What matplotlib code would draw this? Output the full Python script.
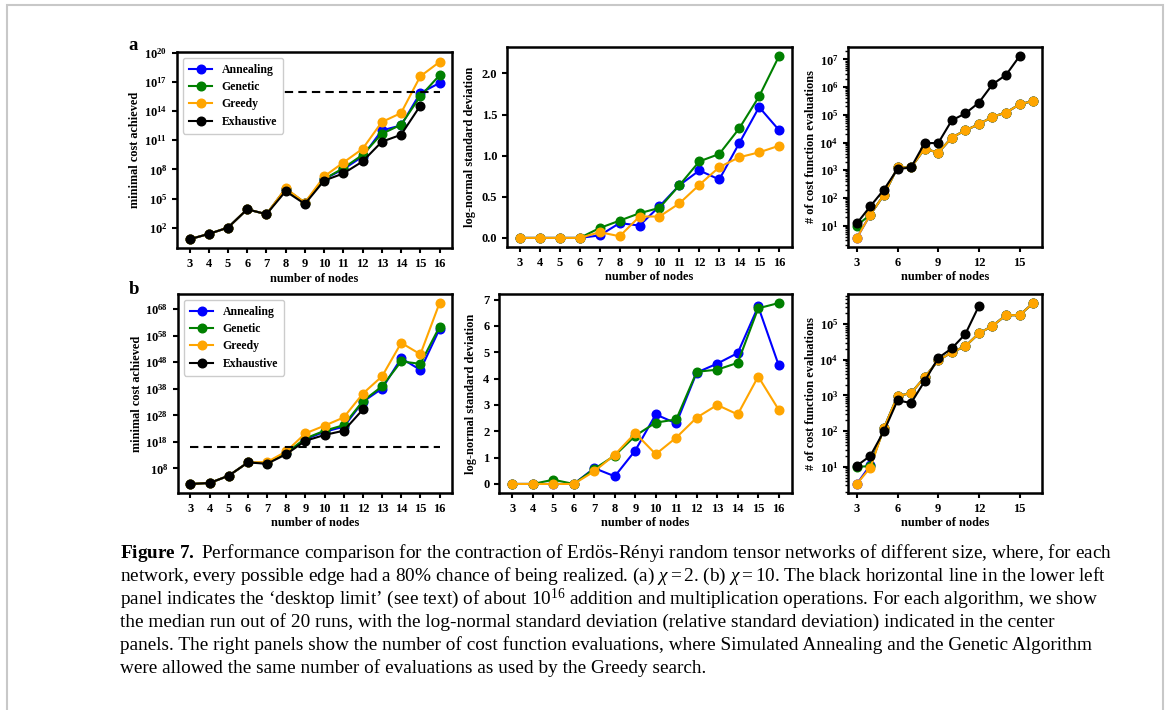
import numpy as np
import matplotlib
matplotlib.use("Agg")
import matplotlib.pyplot as plt
from matplotlib.ticker import NullLocator, FixedLocator
from matplotlib.patches import Rectangle

# ---------------- data ----------------
nodes = list(range(3, 17))
nodes_exh_a = list(range(3, 16))
nodes_exh_b = list(range(3, 13))

# (a) chi = 2 : log10 of minimal cost
a_cost_annealing = [0.80, 1.35, 2.0, 3.89, 3.38, 6.0, 4.55, 7.0, 8.02, 9.33, 12.02, 12.53, 15.87, 16.9]
a_cost_genetic   = [0.80, 1.35, 2.0, 3.89, 3.38, 6.0, 4.55, 7.0, 8.13, 9.5, 11.67, 12.6, 15.53, 17.7]
a_cost_greedy    = [0.80, 1.35, 2.0, 3.89, 3.38, 6.06, 4.58, 7.27, 8.71, 10.12, 12.88, 13.81, 17.59, 19.07]
a_cost_exhaustive = [0.80, 1.35, 2.0, 3.89, 3.38, 5.75, 4.44, 6.85, 7.58, 8.82, 10.85, 11.57, 14.56]

a_std_annealing = [0, 0, 0, 0, 0.03, 0.18, 0.15, 0.385, 0.64, 0.82, 0.71, 1.15, 1.59, 1.31]
a_std_genetic   = [0, 0, 0, 0, 0.12, 0.21, 0.30, 0.365, 0.64, 0.93, 1.02, 1.33, 1.72, 2.21]
a_std_greedy    = [0, 0, 0, 0, 0.07, 0.02, 0.26, 0.26, 0.42, 0.645, 0.86, 0.98, 1.04, 1.12]

a_eval_annealing = [0.556, 1.40, 2.11, 3.10, 3.10, 3.78, 3.63, 4.18, 4.44, 4.66, 4.93, 5.08, 5.38, 5.50]
a_eval_genetic   = [1.0, 1.40, 2.11, 3.10, 3.10, 3.78, 3.63, 4.18, 4.44, 4.66, 4.93, 5.08, 5.38, 5.50]
a_eval_greedy    = [0.556, 1.40, 2.11, 3.10, 3.10, 3.78, 3.63, 4.18, 4.44, 4.66, 4.93, 5.08, 5.38, 5.50]
a_eval_exhaustive = [1.08, 1.70, 2.30, 3.04, 3.10, 3.98, 3.98, 4.80, 5.05, 5.44, 6.10, 6.44, 7.12]

# (b) chi = 10
b_cost_annealing = [2.14, 2.5, 5.26, 10.25, 9.9, 13.7, 19.0, 21.8, 23.7, 33.1, 38.1, 49.5, 45.1, 60.5]
b_cost_genetic   = [2.14, 2.5, 5.26, 10.25, 10.0, 13.8, 19.3, 22.2, 24.3, 33.4, 38.9, 48.3, 47.4, 61.4]
b_cost_greedy    = [2.14, 2.5, 5.26, 10.25, 10.4, 14.4, 21.2, 24.1, 27.2, 36.2, 42.7, 55.3, 51.0, 70.3]
b_cost_exhaustive = [2.14, 2.5, 5.26, 10.25, 9.75, 13.36, 18.4, 20.6, 22.2, 30.2]

b_std_annealing = [0, 0, 0, 0, 0.60, 0.29, 1.27, 2.64, 2.30, 4.23, 4.57, 4.97, 6.74, 4.51]
b_std_genetic   = [0, 0, 0.16, 0, 0.57, 1.08, 1.83, 2.33, 2.45, 4.26, 4.34, 4.60, 6.67, 6.87]
b_std_greedy    = [0, 0, 0, 0, 0.48, 1.11, 1.93, 1.13, 1.76, 2.52, 3.0, 2.64, 4.08, 2.82]

b_eval_annealing = [0.52, 1.05, 2.09, 2.98, 3.07, 3.51, 3.98, 4.21, 4.38, 4.74, 4.95, 5.25, 5.25, 5.59]
b_eval_genetic   = [1.0, 1.02, 2.09, 2.98, 3.07, 3.51, 3.98, 4.21, 4.38, 4.74, 4.95, 5.25, 5.25, 5.59]
b_eval_greedy    = [0.52, 0.98, 2.09, 2.98, 3.07, 3.51, 3.98, 4.21, 4.38, 4.74, 4.95, 5.25, 5.25, 5.59]
b_eval_exhaustive = [1.03, 1.31, 2.0, 2.86, 2.79, 3.40, 4.05, 4.32, 4.72, 5.51]

desktop_limit = 1e16
labels = ["Annealing", "Genetic", "Greedy", "Exhaustive"]
colors = ["blue", "green", "orange", "black"]

caption_lines = [
    r"$\mathbf{Figure\ 7.}$ Performance comparison for the contraction of Erdös-Rényi random tensor networks of different size, where, for each",
    r"network, every possible edge had a 80% chance of being realized. (a) $\chi = 2$. (b) $\chi = 10$. The black horizontal line in the lower left",
    r"panel indicates the ‘desktop limit’ (see text) of about $\mathdefault{10^{16}}$ addition and multiplication operations. For each algorithm, we show",
    "the median run out of 20 runs, with the log-normal standard deviation (relative standard deviation) indicated in the center",
    "panels. The right panels show the number of cost function evaluations, where Simulated Annealing and the Genetic Algorithm",
    "were allowed the same number of evaluations as used by the Greedy search.",
]

# ---------------- style ----------------
plt.rcParams.update({
    "font.family": ["Liberation Serif", "DejaVu Serif"],
    "font.weight": "bold",
    "axes.labelweight": "bold",
    "mathtext.fontset": "custom",
    "mathtext.rm": "Liberation Serif:weight=normal",
    "mathtext.it": "Liberation Serif:slant=italic:weight=normal",
    "mathtext.bf": "Liberation Serif:weight=bold",
    "axes.linewidth": 1.8,
    "xtick.major.width": 1.5,
    "ytick.major.width": 1.5,
    "xtick.minor.width": 1.0,
    "ytick.minor.width": 1.0,
    "xtick.major.size": 3.5,
    "ytick.major.size": 3.5,
    "ytick.minor.size": 2.0,
    "xtick.labelsize": 9,
    "ytick.labelsize": 9,
    "axes.labelsize": 8.8,
})

W, H = 1170, 710
fig = plt.figure(figsize=(W / 100, H / 100), dpi=100)


def box(x0, y0, x1, y1):
    return [x0 / W, 1 - y1 / H, (x1 - x0) / W, (y1 - y0) / H]


ax_a1 = fig.add_axes(box(177, 52, 452, 248))
ax_a2 = fig.add_axes(box(507, 47, 792, 247))
ax_a3 = fig.add_axes(box(848, 47, 1042, 247))
ax_b1 = fig.add_axes(box(178, 294, 452, 493))
ax_b2 = fig.add_axes(box(499, 294, 792, 493))
ax_b3 = fig.add_axes(box(848, 294, 1042, 493))

kw = dict(marker="o", ms=6.2, lw=1.5)


def pow10(v):
    return 10.0 ** np.asarray(v, dtype=float)


def cost_panel(ax, series, exh_nodes, yticks, letter, dy):
    for vals, lab, col in zip(series[:3], labels[:3], colors[:3]):
        ax.plot(nodes, pow10(vals), color=col, label=lab, **kw)
    ax.plot(exh_nodes, pow10(series[3]), color=colors[3], label=labels[3], **kw)
    ax.hlines(desktop_limit, nodes[0], nodes[-1], colors="black", linestyles=(0, (4, 2.5)), lw=1.5)
    ax.set_yscale("log")
    ax.yaxis.set_major_locator(FixedLocator(pow10(yticks)))
    ax.yaxis.set_minor_locator(NullLocator())
    ax.set_xticks(nodes)
    ax.set_xlabel("number of nodes", labelpad=2)
    ax.set_ylabel("minimal cost achieved", labelpad=2)
    ax.legend(loc="upper left", fontsize=8.5, handlelength=2.0, borderpad=0.5,
              labelspacing=0.45, framealpha=1.0, edgecolor="#cccccc")
    ax.annotate(letter, xy=(0, 1), xycoords="axes fraction", xytext=(-44, dy),
                textcoords="offset pixels", fontsize=13.5, fontweight="bold",
                ha="center", va="center")


def std_panel(ax, series):
    for vals, col in zip(series, colors[:3]):
        ax.plot(nodes, vals, color=col, **kw)
    ax.set_xticks(nodes)
    ax.set_xlabel("number of nodes", labelpad=2)
    ax.set_ylabel("log-normal standard deviation", labelpad=4)


def eval_panel(ax, series, exh_nodes):
    for vals, col in zip(series[:3], colors[:3]):
        ax.plot(nodes, pow10(vals), color=col, **kw)
    ax.plot(exh_nodes, pow10(series[3]), color=colors[3], **kw)
    ax.set_yscale("log")
    ax.set_xticks([3, 6, 9, 12, 15])
    ax.set_xlabel("number of nodes", labelpad=2)
    ax.set_ylabel("# of cost function evaluations", labelpad=2)


cost_panel(ax_a1, [a_cost_annealing, a_cost_genetic, a_cost_greedy, a_cost_exhaustive],
           nodes_exh_a, [2, 5, 8, 11, 14, 17, 20], "a", 6)
ax_a1.set_ylim(10 ** -0.1, 10 ** 20.1)
std_panel(ax_a2, [a_std_annealing, a_std_genetic, a_std_greedy])
ax_a2.set_yticks([0.0, 0.5, 1.0, 1.5, 2.0])
ax_a2.set_yticklabels(["0.0", "0.5", "1.0", "1.5", "2.0"])
eval_panel(ax_a3, [a_eval_annealing, a_eval_genetic, a_eval_greedy, a_eval_exhaustive], nodes_exh_a)

cost_panel(ax_b1, [b_cost_annealing, b_cost_genetic, b_cost_greedy, b_cost_exhaustive],
           nodes_exh_b, [8, 18, 28, 38, 48, 58, 68], "b", 4)
std_panel(ax_b2, [b_std_annealing, b_std_genetic, b_std_greedy])
ax_b2.set_yticks(list(range(0, 8)))
eval_panel(ax_b3, [b_eval_annealing, b_eval_genetic, b_eval_greedy, b_eval_exhaustive], nodes_exh_b)

# page frame
fig.patches.append(Rectangle((7 / W, -0.02), (1163 - 7) / W, 1 - 5 / H + 0.02,
                             transform=fig.transFigure, fill=False,
                             edgecolor="#c8c8c8", lw=1.5))

# caption
for i, line in enumerate(caption_lines):
    y = 553 + 23 * i
    fig.text(120 / W, 1 - y / H, line, fontsize=13.9, fontweight="normal",
             family="Liberation Serif", ha="left", va="center")

fig.savefig("out.png", dpi=100)
